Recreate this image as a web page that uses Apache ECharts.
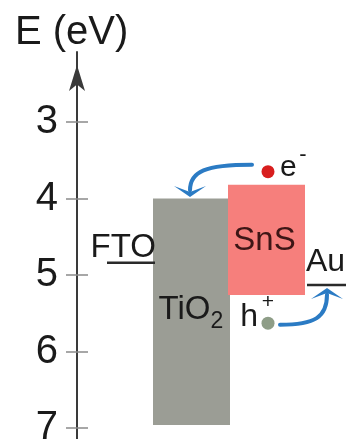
<!DOCTYPE html>
<html><head><meta charset="utf-8">
<script src="https://cdn.jsdelivr.net/npm/echarts@6/dist/echarts.min.js"></script>
<style>html,body{margin:0;padding:0;background:#fff}#c{width:346px;height:439px}</style>
</head><body><div id="c"></div>
<script>
// ---- data (energies in eV) ----
const energyTicks = [3, 4, 5, 6, 7];
const tickLabels = ['3', '4', '5', '6', '7'];
const bandNames = ['TiO', 'SnS'];          // TiO gets subscript 2
const bandCB = [4.0, 3.82];                 // conduction band edge
const bandVB = [6.96, 5.26];                // valence band edge
const levelNames = ['FTO', 'Au'];
const levelValues = [4.84, 5.13];           // work functions
const carrierNames = ['e', 'h'];
const carrierSigns = ['-', '+'];
const carrierEnergy = [3.65, 5.63];
const arrowFromE = [3.56, 5.65];
const arrowToE = [3.98, 5.17];

// ---- layout (horizontal positions in arbitrary x units) ----
const bandX0 = [76, 151], bandX1 = [153, 228];
const bandLabelE = [5.46, null];
const levelX0 = [30, 230], levelX1 = [78, 269];
const carrierX = [191, 191];
const arrowFromX = [175, 203], arrowToX = [113, 250];

const FONT = 'Liberation Sans, Arial, sans-serif';
const BLUE = '#2b7bc4';

const chart = echarts.init(document.getElementById('c'));

function bandItem(params, api) {
  const i = params.dataIndex;
  const p0 = api.coord([api.value(0), api.value(2)]);
  const p1 = api.coord([api.value(1), api.value(3)]);
  const fill = i === 0 ? '#9b9d95' : '#f67f7c';
  const children = [{
    type: 'rect',
    shape: { x: p0[0], y: p0[1], width: p1[0] - p0[0], height: p1[1] - p0[1] },
    style: { fill: fill }
  }];
  const cx = (p0[0] + p1[0]) / 2;
  if (i === 0) {
    const ly = api.coord([0, bandLabelE[0]])[1];
    children.push({ type: 'text', style: { text: bandNames[0], x: cx + 19, y: ly, align: 'right', verticalAlign: 'middle', fontSize: 33, fontFamily: FONT, fill: '#1a1a1a' } });
    children.push({ type: 'text', style: { text: '2', x: cx + 19, y: ly + 11, align: 'left', verticalAlign: 'middle', fontSize: 23, fontFamily: FONT, fill: '#1a1a1a' } });
  } else {
    const cy = (p0[1] + p1[1]) / 2;
    children.push({ type: 'text', style: { text: bandNames[1], x: cx - 2, y: cy + 1, align: 'center', verticalAlign: 'middle', fontSize: 33, fontFamily: FONT, fill: '#3d1616' } });
  }
  return { type: 'group', children: children };
}

function levelItem(params, api) {
  const i = params.dataIndex;
  const p0 = api.coord([api.value(0), api.value(2)]);
  const p1 = api.coord([api.value(1), api.value(2)]);
  const children = [{
    type: 'line',
    shape: { x1: p0[0], y1: p0[1], x2: p1[0], y2: p1[1] },
    style: { stroke: '#2a2a2a', lineWidth: 2.5 }
  }];
  if (i === 0) {
    children.push({ type: 'text', style: { text: levelNames[0], x: p1[0] + 1, y: p0[1] - 15, align: 'right', verticalAlign: 'middle', fontSize: 33, fontFamily: FONT, fill: '#1a1a1a' } });
  } else {
    children.push({ type: 'text', style: { text: levelNames[1], x: p0[0] - 1, y: p0[1] - 23, align: 'left', verticalAlign: 'middle', fontSize: 32, fontFamily: FONT, fill: '#1a1a1a' } });
  }
  return { type: 'group', children: children };
}

function carrierItem(params, api) {
  const i = params.dataIndex;
  const p = api.coord([api.value(0), api.value(1)]);
  const children = [{
    type: 'circle',
    shape: { cx: p[0], cy: p[1], r: 6.5 },
    style: { fill: i === 0 ? '#d81e1e' : '#8e9d87' }
  }];
  if (i === 0) {
    children.push({ type: 'text', style: { text: carrierNames[0], x: p[0] + 12, y: p[1] - 4, align: 'left', verticalAlign: 'middle', fontSize: 30, fontFamily: FONT, fill: '#1a1a1a' } });
    children.push({ type: 'text', style: { text: carrierSigns[0], x: p[0] + 35, y: p[1] - 17, align: 'center', verticalAlign: 'middle', fontSize: 22, fontFamily: FONT, fill: '#1a1a1a' } });
  } else {
    children.push({ type: 'text', style: { text: carrierNames[1], x: p[0] - 10, y: p[1] - 6, align: 'right', verticalAlign: 'middle', fontSize: 32, fontFamily: FONT, fill: '#1a1a1a' } });
    children.push({ type: 'text', style: { text: carrierSigns[1], x: p[0], y: p[1] - 21, align: 'center', verticalAlign: 'middle', fontSize: 21, fontFamily: FONT, fill: '#1a1a1a' } });
  }
  return { type: 'group', children: children };
}

function arrowItem(params, api) {
  const p0 = api.coord([api.value(0), api.value(1)]);
  const tip = api.coord([api.value(2), api.value(3)]);
  const L = 11, W = 16;
  const corner = [tip[0], p0[1]];
  let dx = tip[0] - corner[0], dy = tip[1] - corner[1];
  const d = Math.hypot(dx, dy) || 1; dx /= d; dy /= d;
  const nx = -dy, ny = dx;
  const end = [tip[0] - dx * L * 0.6, tip[1] - dy * L * 0.6];
  const k = 0.75;
  const cp1 = [p0[0] + k * (corner[0] - p0[0]), p0[1] + k * (corner[1] - p0[1])];
  const cp2 = [end[0] + k * (corner[0] - end[0]), end[1] + k * (corner[1] - end[1])];
  const base = [tip[0] - dx * L, tip[1] - dy * L];
  const notch = [tip[0] - dx * L * 0.45, tip[1] - dy * L * 0.45];
  return {
    type: 'group',
    children: [{
      type: 'bezierCurve',
      shape: { x1: p0[0], y1: p0[1], x2: end[0], y2: end[1], cpx1: cp1[0], cpy1: cp1[1], cpx2: cp2[0], cpy2: cp2[1] },
      style: { stroke: BLUE, lineWidth: 4, fill: null, lineCap: 'round' }
    }, {
      type: 'polygon',
      shape: { points: [tip, [base[0] + nx * W, base[1] + ny * W], notch, [base[0] - nx * W, base[1] - ny * W]] },
      style: { fill: BLUE }
    }]
  };
}

const yBase = {
  type: 'value', inverse: true, min: 2.085, max: 7.144, position: 'left',
  splitLine: { show: false }
};

chart.setOption({
  animation: false,
  title: {
    text: 'E (eV)', left: 15, top: 13, padding: 0,
    textStyle: { fontSize: 40, fontWeight: 'normal', fontFamily: FONT, color: '#1a1a1a' }
  },
  grid: { left: 77, right: 0, top: 52, bottom: 0, containLabel: false, outerBoundsMode: 'none' },
  xAxis: { type: 'value', min: 0, max: 269, show: false },
  yAxis: [
    Object.assign({}, yBase, {
      axisLine: { show: true, lineStyle: { color: '#3a3a3a', width: 2 }, symbol: ['none', 'arrow'], symbolSize: [12, 26], symbolOffset: [0, -13] },
      axisTick: { show: true, inside: false, length: 11, customValues: energyTicks, lineStyle: { color: '#8a8a8a', width: 1.5 } },
      axisLabel: { show: true, customValues: energyTicks, formatter: v => tickLabels[energyTicks.indexOf(v)], margin: 19, fontSize: 40, fontFamily: FONT, color: '#1a1a1a' }
    }),
    Object.assign({}, yBase, {
      axisLine: { show: false },
      axisTick: { show: true, inside: true, length: 11, customValues: energyTicks, lineStyle: { color: '#8a8a8a', width: 1.5 } },
      axisLabel: { show: false }
    })
  ],
  series: [
    { type: 'custom', name: 'bands', renderItem: bandItem, data: bandNames.map((n, i) => [bandX0[i], bandX1[i], bandCB[i], bandVB[i]]) },
    { type: 'custom', name: 'levels', renderItem: levelItem, data: levelNames.map((n, i) => [levelX0[i], levelX1[i], levelValues[i]]) },
    { type: 'custom', name: 'arrows', renderItem: arrowItem, data: carrierNames.map((n, i) => [arrowFromX[i], arrowFromE[i], arrowToX[i], arrowToE[i]]) },
    { type: 'custom', name: 'carriers', renderItem: carrierItem, data: carrierNames.map((n, i) => [carrierX[i], carrierEnergy[i]]) }
  ]
});
</script></body></html>
